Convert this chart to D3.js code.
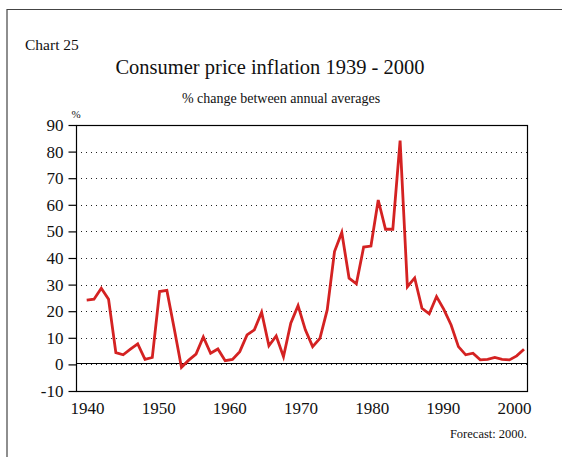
<!DOCTYPE html>
<html lang="en">
<head>
	<meta charset="utf-8" />
	<title>Consumer price inflation 1939 - 2000</title>
	<script type="text/javascript" src="https://d3js.org/d3.v7.min.js"></script>
	<style>
		body { margin: 0; background: #fff; }
		svg text { font-family: "Liberation Serif", "Times New Roman", serif !important; fill: #111; }
	</style>
</head>
<body>
<div id="content"></div>
<script type="text/javascript">

	// years 1940..2000, % change between annual averages
	var years = d3.range(1940, 2001);
	var inflation = [
		24.2, 24.5, 28.6, 24.5, 4.4, 3.6, 5.7, 7.7, 1.9, 2.6,
		27.4, 27.8, 13.6, -1.1, 1.6, 3.9, 10.3, 4.2, 5.8, 1.4,
		1.9, 4.8, 11.1, 13.0, 19.6, 7.0, 10.7, 2.9, 15.5, 22.1,
		13.0, 6.7, 9.8, 20.5, 42.4, 49.6, 32.4, 30.3, 44.1, 44.5,
		61.8, 50.8, 50.8, 84.1, 29.2, 32.5, 21.1, 19.0, 25.5, 20.7,
		14.8, 6.7, 3.6, 4.2, 1.7, 1.9, 2.6, 1.9, 1.7, 3.2, 5.7
	];
	var yTicks = [-10, 0, 10, 20, 30, 40, 50, 60, 70, 80, 90];
	var xLabels = [1940, 1950, 1960, 1970, 1980, 1990, 2000];

	var width = 562, height = 457;
	var box = {left: 76, right: 527, top: 125, bottom: 391};

	var svg = d3.select("#content")
		.append("svg")
		.attr("width", width)
		.attr("height", height);

	// page frame
	svg.append("path")
		.attr("d", "M7,457V9.5H562")
		.attr("fill", "none")
		.attr("stroke", "#444")
		.attr("stroke-width", 1.2);

	var x = d3.scaleLinear().domain([1940, 2000]).range([86.7, 524]);
	// year labels sit slightly left of the data points in the original
	var xLab = d3.scaleLinear().domain([1940, 2000]).range([87, 514]);
	var y = d3.scaleLinear().domain([-10, 90]).range([box.bottom, box.top]);

	// dotted grid
	svg.append("g")
		.selectAll("line")
		.data(yTicks.filter(function(d) { return d > -10 && d < 90; }))
		.enter()
		.append("line")
		.attr("x1", box.left).attr("x2", box.right)
		.attr("y1", function(d) { return Math.round(y(d)) + 0.5; })
		.attr("y2", function(d) { return Math.round(y(d)) + 0.5; })
		.attr("stroke", "#222")
		.attr("stroke-dasharray", "1,4");

	// zero line
	svg.append("line")
		.attr("x1", box.left).attr("x2", box.right)
		.attr("y1", Math.round(y(0)) - 0.5).attr("y2", Math.round(y(0)) - 0.5)
		.attr("stroke", "#000").attr("stroke-width", 1.2);

	// plot frame
	svg.append("rect")
		.attr("x", box.left + 0.5).attr("y", box.top + 0.5)
		.attr("width", box.right - box.left).attr("height", box.bottom - box.top)
		.attr("fill", "none")
		.attr("stroke", "#000").attr("stroke-width", 1.2);

	var fmt = function(d) { return String(d); };

	// y axis
	var gy = svg.append("g")
		.attr("transform", "translate(" + (box.left + 0.5) + ",0)")
		.call(d3.axisLeft(y).tickValues(yTicks).tickSize(8).tickPadding(5).tickFormat(fmt));
	gy.select(".domain").remove();
	gy.selectAll("line").attr("stroke", "#000").attr("stroke-width", 1.2);
	gy.selectAll("text")
		.style("font-family", "'Liberation Serif', serif")
		.style("font-size", "17px")
		.attr("fill", "#111");

	// x labels
	var gx = svg.append("g")
		.attr("transform", "translate(0," + box.bottom + ")")
		.call(d3.axisBottom(xLab).tickValues(xLabels).tickSize(0).tickPadding(11).tickFormat(fmt));
	gx.select(".domain").remove();
	gx.selectAll("text")
		.style("font-family", "'Liberation Serif', serif")
		.style("font-size", "17px")
		.attr("fill", "#111");

	// series
	var line = d3.line()
		.x(function(d, i) { return x(years[i]); })
		.y(function(d) { return y(d); });

	svg.append("path")
		.datum(inflation)
		.attr("d", line)
		.attr("fill", "none")
		.attr("stroke", "#d42222")
		.attr("stroke-width", 2.8)
		.attr("stroke-linejoin", "miter");

	// texts
	svg.append("text").attr("x", 25).attr("y", 50).attr("font-size", 15.5).text("Chart 25");
	svg.append("text").attr("x", 270).attr("y", 74).attr("text-anchor", "middle")
		.attr("font-size", 20.5).text("Consumer price inflation 1939 - 2000");
	svg.append("text").attr("x", 281).attr("y", 103).attr("text-anchor", "middle")
		.attr("font-size", 14).text("% change between annual averages");
	svg.append("text").attr("x", 76).attr("y", 118).attr("text-anchor", "middle")
		.attr("font-size", 11).text("%");
	svg.append("text").attr("x", 527).attr("y", 438).attr("text-anchor", "end")
		.attr("font-size", 12.5).text("Forecast: 2000.");

</script>
</body>
</html>
